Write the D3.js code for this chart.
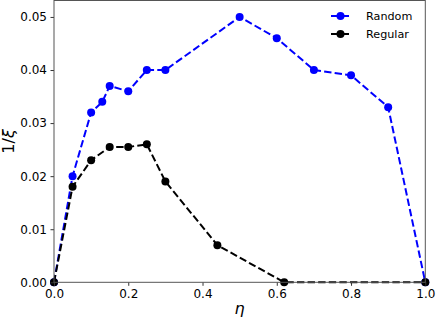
<!DOCTYPE html>
<html><head><meta charset="utf-8">
<script src="https://cdn.jsdelivr.net/npm/d3@7"></script>
<style>body{margin:0;background:#fff}svg text{font-family:"DejaVu Sans",sans-serif}</style>
</head><body><svg id="c" width="436" height="319"></svg>
<script>
const randomX = [0, 0.05, 0.1, 0.13, 0.15, 0.2, 0.25, 0.3, 0.5, 0.6, 0.7, 0.8, 0.9, 1.0];
const randomY = [0, 0.020, 0.032, 0.034, 0.037, 0.036, 0.040, 0.040, 0.050, 0.046, 0.040, 0.039, 0.033, 0];
const regularX = [0, 0.05, 0.1, 0.15, 0.2, 0.25, 0.3, 0.44, 0.62, 1.0];
const regularY = [0, 0.018, 0.023, 0.0255, 0.0255, 0.026, 0.019, 0.007, 0, 0];
const xTicks = [0, 0.2, 0.4, 0.6, 0.8, 1.0];
const yTicks = [0, 0.01, 0.02, 0.03, 0.04, 0.05];
const seriesNames = ["Random", "Regular"];
const colors = ["#0000ff", "#000000"];

const svg = d3.select("#c");
const L = 54, R = 425.3, T = 0.5, B = 282.3;
const x = d3.scaleLinear().domain([0, 1]).range([L, R]);
const y = d3.scaleLinear().domain([0, 0.0531]).range([B, T]);

const series = [
  {name: seriesNames[0], xs: randomX, ys: randomY, color: colors[0]},
  {name: seriesNames[1], xs: regularX, ys: regularY, color: colors[1]}
];

const line = d3.line().x(d => x(d[0])).y(d => y(d[1]));
const g = svg.append("g");
series.forEach(s => {
  const pts = s.xs.map((v,i) => [v, s.ys[i]]);
  const sg = g.append("g");
  sg.append("path").attr("d", line(pts)).attr("fill","none")
    .attr("stroke", s.color).attr("stroke-width", 2).attr("stroke-dasharray","7.4,3.2");
  sg.selectAll("circle").data(pts).join("circle")
    .attr("cx", d => x(d[0])).attr("cy", d => y(d[1])).attr("r", 4).attr("fill", s.color);
});

// axes
const xAxis = d3.axisBottom(x).tickValues(xTicks).tickFormat(d3.format(".1f")).tickSizeOuter(0).tickSize(3.5).tickPadding(3.5);
const yAxis = d3.axisLeft(y).tickValues(yTicks).tickFormat(d3.format(".2f")).tickSizeOuter(0).tickSize(3.5).tickPadding(3.5);
const gx = svg.append("g").attr("transform", `translate(0,${B})`).call(xAxis);
const gy = svg.append("g").attr("transform", `translate(${L},0)`).call(yAxis);
[gx, gy].forEach(a => {
  a.select(".domain").remove();
  a.selectAll("text").attr("font-size", 12).attr("fill", "#000").style("font-family","DejaVu Sans");
  a.selectAll("line").attr("stroke", "#333");
});
// frame
svg.append("rect").attr("x", L).attr("y", T).attr("width", R-L).attr("height", B-T)
  .attr("fill","none").attr("stroke","#555").attr("stroke-width",1);

// axis labels
svg.append("text").attr("x", (L+R)/2).attr("y", 314).attr("text-anchor","middle")
  .attr("font-size", 16).attr("font-style","italic").text("η");
svg.append("text").attr("transform", `translate(14,${(T+B)/2}) rotate(-90)`).attr("text-anchor","middle")
  .attr("font-size", 16).html('1/<tspan font-style="italic">ξ</tspan>');

// legend
const lg = svg.append("g");
series.forEach((s, i) => {
  const cy = 16 + i*18;
  lg.append("line").attr("x1", 331).attr("x2", 351).attr("y1", cy).attr("y2", cy)
    .attr("stroke", s.color).attr("stroke-width", 2).attr("stroke-dasharray","7.4,3.2");
  lg.append("circle").attr("cx", 340.5).attr("cy", cy).attr("r", 4).attr("fill", s.color);
  lg.append("text").attr("x", 366).attr("y", cy).attr("dy", "0.35em").attr("font-size", 11.2).text(s.name);
});
</script></body></html>
